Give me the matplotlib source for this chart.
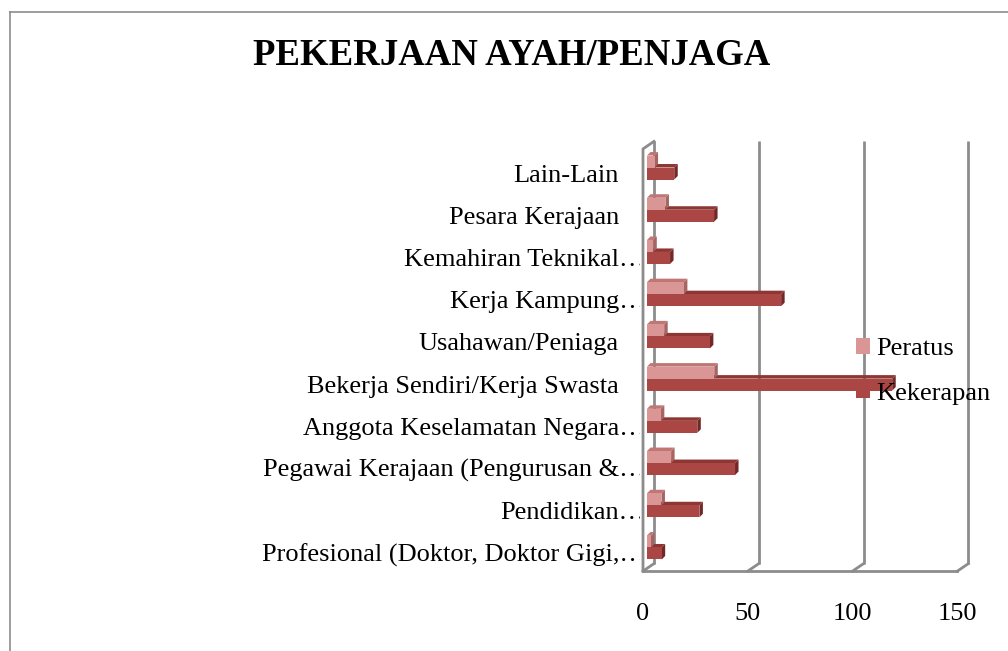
import matplotlib
matplotlib.use("Agg")
import matplotlib.pyplot as plt
from matplotlib.patches import Polygon, Rectangle, Patch
from matplotlib.lines import Line2D
from matplotlib import transforms
from matplotlib.transforms import Bbox

plt.rcParams["font.family"] = ["Liberation Serif", "DejaVu Serif"]

# ---- data (bottom to top) ----
categories = [
    "Profesional (Doktor, Doktor Gigi,…",
    "Pendidikan…",
    "Pegawai Kerajaan (Pengurusan &…",
    "Anggota Keselamatan Negara…",
    "Bekerja Sendiri/Kerja Swasta",
    "Usahawan/Peniaga",
    "Kerja Kampung…",
    "Kemahiran Teknikal…",
    "Pesara Kerajaan",
    "Lain-Lain",
]
kekerapan = [7, 25, 42, 24, 117, 30, 64, 11, 32, 13]
peratus = [1.9, 6.9, 11.5, 6.6, 32.1, 8.2, 17.6, 3.0, 8.8, 3.6]
x_ticks = [0, 50, 100, 150]
series_names = ["Peratus", "Kekerapan"]
title = "PEKERJAAN AYAH/PENJAGA"

# ---- figure / axes geometry (pixels) ----
W, H = 1008, 651
fig = plt.figure(figsize=(W / 100, H / 100), dpi=100)
ax_left, ax_right, ax_top, ax_bottom = 647, 961.4, 146.4, 568.6
ax = fig.add_axes([ax_left / W, (H - ax_bottom) / H,
                   (ax_right - ax_left) / W, (ax_bottom - ax_top) / H])
xmax = x_ticks[-1]
n = len(categories)
ax.set_xlim(0, xmax)
ax.set_ylim(-0.5, n - 0.5)
ax.axis("off")

sx = (ax_right - ax_left) / xmax      # px per x unit
sy = (ax_bottom - ax_top) / n         # px per category


def d(px_x, px_y):
    """pixel offset -> data offset (px_y positive = up)"""
    return px_x / sx, px_y / sy


bx, by = d(7, 5)        # back wall offset
fx, fy = d(-4, -2.5)    # front plane offset
dx, dy = d(3.5, 3.5)    # bar depth

grid_c = "#8c8c8c"
glw = 2.0
ylo, yhi = -0.5, n - 0.5

# walls
for v in x_ticks:
    ax.add_line(Line2D([v + bx, v + bx], [ylo + by, yhi + by], color=grid_c,
                       lw=glw, clip_on=False, zorder=1, solid_capstyle="butt"))
    ax.add_line(Line2D([v + bx, v + fx], [ylo + by, ylo + fy], color=grid_c,
                       lw=glw, clip_on=False, zorder=1))
ax.add_line(Line2D([0 + fx, xmax + fx], [ylo + fy, ylo + fy], color=grid_c,
                   lw=glw, clip_on=False, zorder=1))
ax.add_line(Line2D([fx, fx, bx], [ylo + fy, yhi + fy, yhi + by], color=grid_c,
                   lw=glw, clip_on=False, zorder=1))

# bars
h = 12 / sy
styles = {
    "Kekerapan": dict(front="#AA4643", top="#8E3633", side="#722826"),
    "Peratus": dict(front="#D99694", top="#BF7674", side="#A66462"),
}


def bar3d(y0, v, st, z):
    y1 = y0 + h
    ax.add_patch(Polygon([(v, y0), (v + dx, y0 + dy), (v + dx, y1 + dy), (v, y1)],
                         closed=True, fc=st["side"], ec="none", zorder=z, clip_on=False))
    ax.add_patch(Polygon([(0, y1), (v, y1), (v + dx, y1 + dy), (dx, y1 + dy)],
                         closed=True, fc=st["top"], ec="none", zorder=z, clip_on=False))
    ax.add_patch(Rectangle((0, y0), v, h, fc=st["front"], ec="none", zorder=z,
                           clip_on=False))


for i in range(n):
    bar3d(i - h, kekerapan[i], styles["Kekerapan"], 3)
    bar3d(i, peratus[i], styles["Peratus"], 4)

# category labels (truncated ones end in an ellipsis clipped by the wall)
label_clip = Bbox.from_extents(0, 0, 639.5, H)
for i, lab in enumerate(categories):
    off = -1.5 if lab.endswith("…") else -28
    tr = transforms.offset_copy(ax.transData, fig=fig, x=off, y=-14, units="dots")
    t = ax.text(0, i, lab, transform=tr, ha="right", va="baseline",
                fontsize=19, color="black")
    t.set_clip_box(label_clip)
    t.set_clip_on(True)

# x tick labels (front plane)
tick_tr = transforms.blended_transform_factory(ax.transData, fig.transFigure)
for v in x_ticks:
    ax.text(v + fx, (H - 620) / H, str(v), transform=tick_tr, ha="center",
            va="baseline", fontsize=19)

# title
fig.text(511.5 / W, (H - 65) / H, title, ha="center", va="baseline",
         fontsize=26.5, fontweight="bold")

# legend
handles = [Patch(fc=styles[s]["front"], ec="none") for s in series_names]
leg = ax.legend(handles, series_names, loc="upper left",
                bbox_to_anchor=(856 / W, (H - 338) / H),
                bbox_transform=fig.transFigure, frameon=False, fontsize=19,
                handlelength=0.53, handleheight=0.53, handletextpad=0.22,
                labelspacing=0.85, borderpad=0, borderaxespad=0)
leg.set_zorder(10)

# outer border
fig.add_artist(Line2D([9.5 / W, 9.5 / W], [0, (H - 11.5) / H],
                      transform=fig.transFigure, color="#8c8c8c", lw=1.2))
fig.add_artist(Line2D([9.5 / W, 1], [(H - 11.5) / H, (H - 11.5) / H],
                      transform=fig.transFigure, color="#8c8c8c", lw=1.2))

fig.savefig("out.png", dpi=100)
